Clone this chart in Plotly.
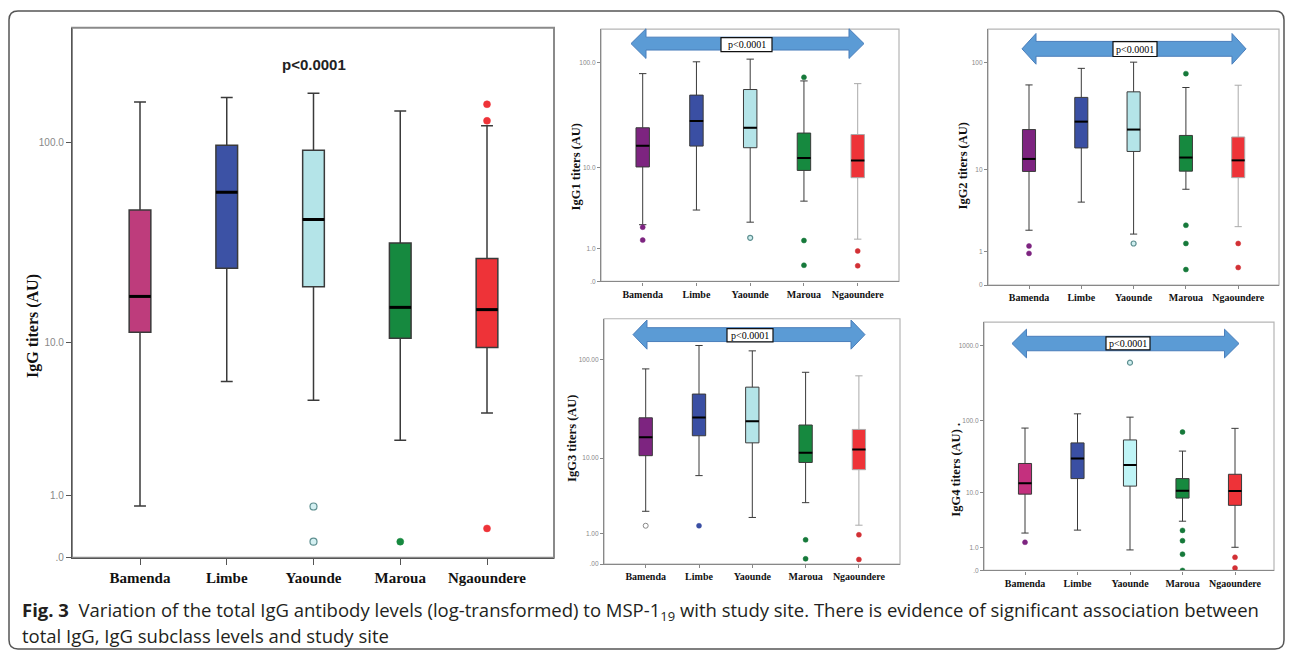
import numpy as np
import plotly.graph_objects as go

W, H = 1292, 657
sites = ["Bamenda", "Limbe", "Yaounde", "Maroua", "Ngaoundere"]

# ---- Total IgG (AU) ----
igg_lower = [0.78, 6.1, 4.77, 2.70, 4.01]
igg_q1 = [11.3, 24.0, 19.4, 10.5, 9.37]
igg_med = [17.3, 57.3, 42.0, 15.2, 14.8]
igg_q3 = [46.8, 97.2, 92.0, 32.1, 26.9]
igg_upper = [158, 166, 174, 143, 121]
igg_out = [[], [], [0.77, 0.197], [0.197], [154, 128, 0.387]]

# ---- IgG1 ----
igg1_lower = [2.31, 3.51, 2.49, 4.44, 1.44]
igg1_q1 = [10.2, 16.4, 15.8, 9.41, 7.93]
igg1_med = [16.5, 28.6, 24.6, 12.5, 11.8]
igg1_q3 = [24.6, 50.0, 56.4, 21.9, 21.2]
igg1_upper = [79.3, 102, 108, 67.8, 64]
igg1_out = [[2.14, 1.39], [], [1.51], [73.3, 1.37, 0.406], [0.90, 0.39]]

# ---- IgG2 ----
igg2_lower = [2.12, 4.59, 1.88, 6.30, 2.36]
igg2_q1 = [9.57, 16.2, 15.0, 9.63, 8.29]
igg2_med = [12.7, 28.7, 24.2, 13.1, 12.3]
igg2_q3 = [24.2, 48.1, 54.1, 21.3, 20.6]
igg2_upper = [62.6, 88.7, 101, 59.3, 62.2]
igg2_out = [[1.25, 0.93], [], [1.37], [79.4, 2.46, 1.37, 0.38], [1.37, 0.44]]

# ---- IgG3 ----
igg3_lower = [2.30, 6.39, 1.87, 3.01, 1.41]
igg3_q1 = [10.6, 17.2, 14.5, 8.95, 7.45]
igg3_med = [16.6, 26.5, 24.2, 11.4, 12.3]
igg3_q3 = [26.3, 45.7, 53.6, 22.2, 20.0]
igg3_upper = [81.5, 139, 123, 75.4, 69.5]
igg3_out = [[1.38], [1.38], [], [0.73, 0.127], [0.94, 0.11]]

# ---- IgG4 ----
igg4_lower = [2.16, 2.46, 0.88, 3.55, 1.04]
igg4_q1 = [9.47, 15.9, 12.4, 8.27, 6.42]
igg4_med = [13.6, 30.4, 24.7, 10.6, 10.5]
igg4_q3 = [25.9, 49.7, 54.5, 15.9, 18.3]
igg4_upper = [79.0, 123, 111, 38.4, 78.3]
igg4_out = [[1.38], [], [598], [69.8, 2.43, 1.50, 0.65, 0.0], [0.50, 0.076]]

# tick values / labels
igg_ticks = [0, 1, 10, 100]
igg_ticklabels = [".0", "1.0", "10.0", "100.0"]
igg1_ticklabels = [".0", "1.0", "10.0", "100.0"]
igg2_ticklabels = ["0", "1", "10", "100"]
igg3_ticklabels = [".00", "1.00", "10.00", "100.00"]
igg4_ticks = [0, 1, 10, 100, 1000]
igg4_ticklabels = [".0", "1.0", "10.0", "100.0", "1000.0"]

col_main = ["#BE3C7C", "#3C52A5", "#B4E4E8", "#16893F", "#EE3338"]
col_sub = ["#7D2480", "#3A4FA3", "#B4E4E8", "#16893F", "#EE3338"]
col_sub4 = ["#C4307E", "#3A4FA3", "#BFF4F6", "#16893F", "#EE3338"]
out_main = ["#BE3C7C", "#3C52A5", "#D4F0F2", "#16893F", "#EE3338"]
out_sub = ["#7D2480", "#3A4FA3", "#9AC8C8", "#16793A", "#D23035"]


def tr(v):
    """log10(x+1) transform used by the original axis."""
    return np.log10(np.asarray(v, dtype=float) + 1.0)


def X(px):
    return px / W


def Y(py):
    return 1 - py / H


panels = [
    dict(lower=igg_lower, q1=igg_q1, med=igg_med, q3=igg_q3, upper=igg_upper, out=igg_out,
         ticks=igg_ticks, ticktext=igg_ticklabels, colors=col_main, ocolors=out_main,
         g=dict(left=72, right=554, top=28, bottom=563, c0=140, sp=86.75, scale=209),
         title="IgG titers (AU)", tpos=(33, 329), tsize=16, catsize=15, ticksize=10,
         ticklen_x=6, ticklen_y=5, medw=3, boxlw=1.5, msize=7, frame="#8a8a8a", framew=2,
         axcol="#555", ngcol="#3a3a3a", arrow=None),
    dict(lower=igg1_lower, q1=igg1_q1, med=igg1_med, q3=igg1_q3, upper=igg1_upper, out=igg1_out,
         ticks=igg_ticks, ticktext=igg1_ticklabels, colors=col_sub, ocolors=out_sub,
         g=dict(left=601, right=899, top=29.3, bottom=284, c0=642.7, sp=53.75, scale=110.1),
         title="IgG1 titers (AU)", tpos=(576, 169), tsize=12.5, catsize=10, ticksize=6.5,
         ticklen_x=3, ticklen_y=3, medw=2, boxlw=1, msize=5, frame="#b5b5b5", framew=1.2,
         axcol="#888", ngcol="#aaaaaa",
         arrow=dict(x0=631, x1=864, yc=44, hh=15, bh=6.5, hl=15, box=(721, 772, 38, 52))),
    dict(lower=igg2_lower, q1=igg2_q1, med=igg2_med, q3=igg2_q3, upper=igg2_upper, out=igg2_out,
         ticks=igg_ticks, ticktext=igg2_ticklabels, colors=col_sub, ocolors=out_sub,
         g=dict(left=988, right=1279, top=29.3, bottom=287.7, c0=1029, sp=52.3, scale=112),
         title="IgG2 titers (AU)", tpos=(963, 167), tsize=12.5, catsize=10, ticksize=6.5,
         ticklen_x=3, ticklen_y=3, medw=2, boxlw=1, msize=5, frame="#b5b5b5", framew=1.2,
         axcol="#888", ngcol="#aaaaaa",
         arrow=dict(x0=1022, x1=1246, yc=49.3, hh=15.5, bh=7.5, hl=14, box=(1113, 1157, 42, 57))),
    dict(lower=igg3_lower, q1=igg3_q1, med=igg3_med, q3=igg3_q3, upper=igg3_upper, out=igg3_out,
         ticks=igg_ticks, ticktext=igg3_ticklabels, colors=col_sub, ocolors=out_sub,
         g=dict(left=604, right=900, top=321.7, bottom=569.3, c0=645.7, sp=53.3, scale=102.8),
         title="IgG3 titers (AU)", tpos=(572, 443), tsize=12.5, catsize=10, ticksize=6.5,
         ticklen_x=3, ticklen_y=3, medw=2, boxlw=1, msize=5, frame="#b5b5b5", framew=1.2,
         axcol="#888", ngcol="#aaaaaa",
         arrow=dict(x0=633, x1=865, yc=337.7, hh=14.7, bh=7, hl=14, box=(727, 773, 331.7, 345))),
    dict(lower=igg4_lower, q1=igg4_q1, med=igg4_med, q3=igg4_q3, upper=igg4_upper, out=igg4_out,
         ticks=igg4_ticks, ticktext=igg4_ticklabels, colors=col_sub4, ocolors=out_sub,
         g=dict(left=984, right=1274, top=325, bottom=575.7, c0=1025, sp=52.5, scale=75.5),
         title="IgG4 titers (AU) .", tpos=(956, 474), tsize=12.5, catsize=10, ticksize=6.5,
         ticklen_x=3, ticklen_y=3, medw=2, boxlw=1, msize=5, frame="#b5b5b5", framew=1.2,
         axcol="#888", ngcol="#3a3a3a",
         arrow=dict(x0=1012, x1=1239, yc=346.7, hh=14.5, bh=7.3, hl=14.5, box=(1106, 1150, 340, 353))),
]

fig = go.Figure()
shapes = []
annotations = []
layout_axes = {}
BW = 0.25

for k, p in enumerate(panels, start=1):
    sfx = "" if k == 1 else str(k)
    xr, yr = "x" + sfx, "y" + sfx
    g = p["g"]
    r0 = -(g["c0"] - g["left"]) / g["sp"]
    r1 = r0 + (g["right"] - g["left"]) / g["sp"]
    ytop = (g["bottom"] - g["top"]) / g["scale"]

    layout_axes["xaxis" + sfx] = dict(
        domain=[X(g["left"]), X(g["right"])], range=[r0, r1], anchor=yr,
        tickmode="array", tickvals=list(range(len(sites))),
        ticktext=["<b>%s</b>" % s for s in sites],
        tickfont=dict(family="Liberation Serif", size=p["catsize"], color="#111"),
        ticks="outside", ticklen=p["ticklen_x"], tickcolor=p["axcol"], tickwidth=1.2,
        showline=True, linecolor=p["axcol"], linewidth=1.3,
        showgrid=False, zeroline=False, fixedrange=True)
    layout_axes["yaxis" + sfx] = dict(
        domain=[Y(g["bottom"]), Y(g["top"])], range=[0, ytop], anchor=xr,
        tickmode="array", tickvals=list(tr(p["ticks"])), ticktext=p["ticktext"],
        tickfont=dict(family="Liberation Sans", size=p["ticksize"], color="#888"),
        ticks="outside", ticklen=p["ticklen_y"], tickcolor=p["axcol"], tickwidth=1,
        showline=True, linecolor=p["axcol"], linewidth=1.3,
        showgrid=False, zeroline=False, fixedrange=True)

    # frame
    shapes.append(dict(type="rect", xref=xr + " domain", yref=yr + " domain",
                       x0=0, x1=1, y0=0, y1=1, layer="below",
                       line=dict(color=p["frame"], width=p["framew"])))

    for i, s in enumerate(sites):
        lc = p["ngcol"] if i == 4 else "#3a3a3a"
        fig.add_trace(go.Box(
            x=[i], q1=[tr(p["q1"][i])], median=[tr(p["med"][i])], q3=[tr(p["q3"][i])],
            lowerfence=[tr(p["lower"][i])], upperfence=[tr(p["upper"][i])],
            width=BW, whiskerwidth=0.55, fillcolor=p["colors"][i],
            line=dict(color=lc, width=p["boxlw"]), boxpoints=False,
            xaxis=xr, yaxis=yr, showlegend=False, hoverinfo="skip"))
        m = float(tr(p["med"][i]))
        fig.add_trace(go.Scatter(
            x=[i - BW / 2, i + BW / 2], y=[m, m], mode="lines",
            line=dict(color="#000", width=p["medw"]),
            xaxis=xr, yaxis=yr, showlegend=False, hoverinfo="skip"))
        if p["out"][i]:
            ov = tr(p["out"][i])
            if k == 4 and i == 0:
                mk = dict(symbol="circle-open", size=p["msize"], color="#888", line=dict(width=1))
            elif i == 2:
                mk = dict(symbol="circle", size=p["msize"], color=p["ocolors"][i] if k == 1 else "#CFEFF0",
                          line=dict(color="#5E8F90", width=1.2))
            else:
                mk = dict(symbol="circle", size=p["msize"], color=p["ocolors"][i],
                          line=dict(color=p["ocolors"][i], width=0.5))
            fig.add_trace(go.Scatter(
                x=[i] * len(ov), y=list(ov), mode="markers", marker=mk,
                xaxis=xr, yaxis=yr, showlegend=False, hoverinfo="skip"))

    # y axis title
    annotations.append(dict(
        x=X(p["tpos"][0]), y=Y(p["tpos"][1]), xref="paper", yref="paper",
        text="<b>%s</b>" % p["title"], textangle=-90, showarrow=False,
        font=dict(family="Liberation Serif", size=p["tsize"], color="#111"),
        xanchor="center", yanchor="middle"))

    a = p["arrow"]
    if a is not None:
        x0, x1, yc, hh, bh, hl = a["x0"], a["x1"], a["yc"], a["hh"], a["bh"], a["hl"]
        pts = [(x0, yc), (x0 + hl, yc - hh), (x0 + hl, yc - bh), (x1 - hl, yc - bh),
               (x1 - hl, yc - hh), (x1, yc), (x1 - hl, yc + hh), (x1 - hl, yc + bh),
               (x0 + hl, yc + bh), (x0 + hl, yc + hh)]
        path = "M " + " L ".join("%.5f,%.5f" % (X(px), Y(py)) for px, py in pts) + " Z"
        shapes.append(dict(type="path", xref="paper", yref="paper", path=path,
                           fillcolor="#5B9BD5", line=dict(color="#4A7EBB", width=1), layer="above"))
        bx0, bx1, by0, by1 = a["box"]
        shapes.append(dict(type="rect", xref="paper", yref="paper",
                           x0=X(bx0), x1=X(bx1), y0=Y(by1), y1=Y(by0),
                           fillcolor="white", line=dict(color="#111", width=1.2), layer="above"))
        annotations.append(dict(
            x=X((bx0 + bx1) / 2), y=Y((by0 + by1) / 2), xref="paper", yref="paper",
            text="p<0.0001", showarrow=False,
            font=dict(family="Liberation Serif", size=10, color="#000"),
            xanchor="center", yanchor="middle"))

# main panel p-value
annotations.append(dict(x=X(314), y=Y(65), xref="paper", yref="paper",
                        text="<b>p<0.0001</b>", showarrow=False,
                        font=dict(family="Liberation Sans", size=15, color="#222"),
                        xanchor="center", yanchor="middle"))

# caption
annotations.append(dict(
    x=X(20), y=Y(617), xref="paper", yref="paper", xanchor="left", yanchor="middle",
    showarrow=False, align="left",
    text="<b>Fig. 3</b>  Variation of the total IgG antibody levels (log-transformed) to MSP-1<sub>19</sub> "
         "with study site. There is evidence of significant association between",
    font=dict(family="Open Sans", size=18.5, color="#231f20")))
annotations.append(dict(
    x=X(20), y=Y(641), xref="paper", yref="paper", xanchor="left", yanchor="middle",
    showarrow=False, align="left",
    text="total IgG, IgG subclass levels and study site",
    font=dict(family="Open Sans", size=18.5, color="#231f20")))

# outer rounded border
bl, bt, br, bb, rr = 9, 11, 1284, 655, 9
bpts = ("M %f,%f L %f,%f Q %f,%f %f,%f L %f,%f Q %f,%f %f,%f L %f,%f Q %f,%f %f,%f L %f,%f Q %f,%f %f,%f Z" % (
    X(bl + rr), Y(bt), X(br - rr), Y(bt), X(br), Y(bt), X(br), Y(bt + rr),
    X(br), Y(bb - rr), X(br), Y(bb), X(br - rr), Y(bb),
    X(bl + rr), Y(bb), X(bl), Y(bb), X(bl), Y(bb - rr),
    X(bl), Y(bt + rr), X(bl), Y(bt), X(bl + rr), Y(bt)))
shapes.append(dict(type="path", xref="paper", yref="paper", path=bpts,
                   line=dict(color="#555", width=1.5), layer="below"))

fig.update_layout(width=W, height=H, autosize=False,
                  margin=dict(l=0, r=0, t=0, b=0),
                  paper_bgcolor="white", plot_bgcolor="white",
                  boxmode="overlay", shapes=shapes, annotations=annotations,
                  **layout_axes)

fig.write_html("out.html", config={"displayModeBar": False},
               post_script="document.body.style.margin='0';document.body.style.padding='0';")
